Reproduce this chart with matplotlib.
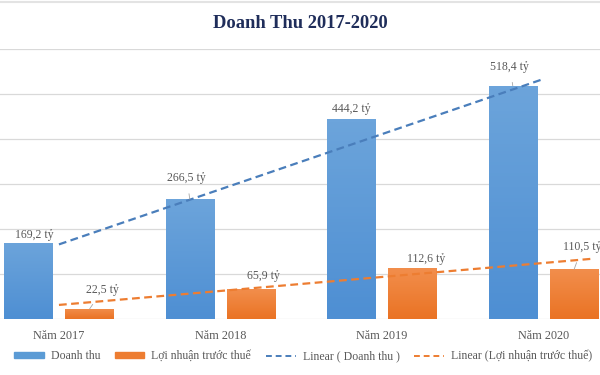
import numpy as np
import matplotlib
matplotlib.use("Agg")
import matplotlib.pyplot as plt
from matplotlib.lines import Line2D
from matplotlib.patches import Patch
from matplotlib.colors import LinearSegmentedColormap

years = ["Năm 2017", "Năm 2018", "Năm 2019", "Năm 2020"]
doanh_thu = [169.2, 266.5, 444.2, 518.4]
loi_nhuan = [22.5, 65.9, 112.6, 110.5]
dt_labels = ["169,2 tỷ", "266,5 tỷ", "444,2 tỷ", "518,4 tỷ"]
ln_labels = ["22,5 tỷ", "65,9 tỷ", "112,6 tỷ", "110,5 tỷ"]

# label offsets (pixels) from the bar top centre, and whether a leader line is drawn
dt_off = [(6, 8, False), (-3, 21, True), (0, 10, False), (-3, 19, True)]
ln_off = [(13, 19, True), (12, 13, False), (13, 9, False), (8, 22, True)]

blue = "#5B9BD5"
orange = "#ED7D31"
serif = ["Liberation Serif", "DejaVu Serif"]
txt = "#595959"

fig = plt.figure(figsize=(6, 3.75), dpi=100)
ax = fig.add_axes([0, 1 - 319 / 375, 1, 270 / 375])

x = np.arange(len(years))
w = 0.30
off = 0.19
b1 = ax.bar(x - off, doanh_thu, w, color=blue, zorder=2)
b2 = ax.bar(x + off, loi_nhuan, w, color=orange, zorder=2)

# soft vertical gradient on the bars, like the Excel style
grad = np.linspace(0, 1, 64).reshape(-1, 1)
cm_b = LinearSegmentedColormap.from_list("b", ["#4E8FD3", "#6CA4DB"])
cm_o = LinearSegmentedColormap.from_list("o", ["#EA7324", "#F28E4C"])
for bars, cm in ((b1, cm_b), (b2, cm_o)):
    for r in bars:
        x0, y0 = r.get_x(), r.get_y()
        im = ax.imshow(grad, cmap=cm, aspect="auto", origin="lower",
                       extent=(x0, x0 + r.get_width(), y0, y0 + r.get_height()),
                       zorder=2.1)
        im.set_clip_path(r)

# linear trend lines (like Excel)
p1 = np.polyfit(x, doanh_thu, 1)
p2 = np.polyfit(x, loi_nhuan, 1)
xt1 = np.array([0, 3])
xt2 = np.array([0, 3.3])
ax.plot(xt1, np.polyval(p1, xt1), ls=(0, (3.5, 2)), color="#4A7EBB", lw=1.6, zorder=3)
ax.plot(xt2, np.polyval(p2, xt2), ls=(0, (3.5, 2)), color=orange, lw=1.6, zorder=3)

def put_labels(vals, labels, offs, xpos):
    for xi, v, lab, (dx, dy, lead) in zip(xpos, vals, labels, offs):
        ax.annotate(lab, xy=(xi, v), xytext=(dx, dy), textcoords="offset pixels",
                    ha="center", va="center", fontsize=8.5, color=txt, family=serif,
                    arrowprops=dict(arrowstyle="-", color="#A6A6A6", lw=0.6,
                                    shrinkA=5, shrinkB=0) if lead else None,
                    zorder=4)

put_labels(doanh_thu, dt_labels, dt_off, x - off)
put_labels(loi_nhuan, ln_labels, ln_off, x + off)

ax.set_xlim(-0.365, 3.35)
ax.set_ylim(0, 600)
ax.set_yticks(np.arange(0, 601, 100))
ax.yaxis.grid(True, color="#D9D9D9", lw=0.9, zorder=0)
ax.tick_params(axis="y", left=False, labelleft=False)
ax.set_xticks(x)
ax.set_xticklabels(years, family=serif, fontsize=8.8, color=txt)
ax.tick_params(axis="x", length=0, pad=8)
for s in ax.spines.values():
    s.set_visible(False)

fig.add_artist(Line2D([0, 1], [1 - 1.5 / 375] * 2, color="#E3E3E3", lw=1.5))
fig.text(0.5, 1 - 23 / 375, "Doanh Thu 2017-2020", ha="center", va="center",
         fontsize=13.3, fontweight="bold", color="#1F2D5A", family=serif)

handles = [Patch(color=blue), Patch(color=orange),
           Line2D([], [], ls=(0, (3, 2)), color="#4A7EBB", lw=1.4),
           Line2D([], [], ls=(0, (3, 2)), color=orange, lw=1.4)]
names = ["Doanh thu", "Lợi nhuận trước thuế", "Linear ( Doanh thu )",
         "Linear (Lợi nhuận trước thuế)"]
fig.legend(handles, names, loc="center", bbox_to_anchor=(0.505, 1 - 356 / 375), ncol=4,
           frameon=False, prop={"family": serif, "size": 8.5}, labelcolor=txt,
           handlelength=2.5, handleheight=0.4, handletextpad=0.6, columnspacing=1.25)

fig.savefig("out.png", dpi=100, facecolor="white")
